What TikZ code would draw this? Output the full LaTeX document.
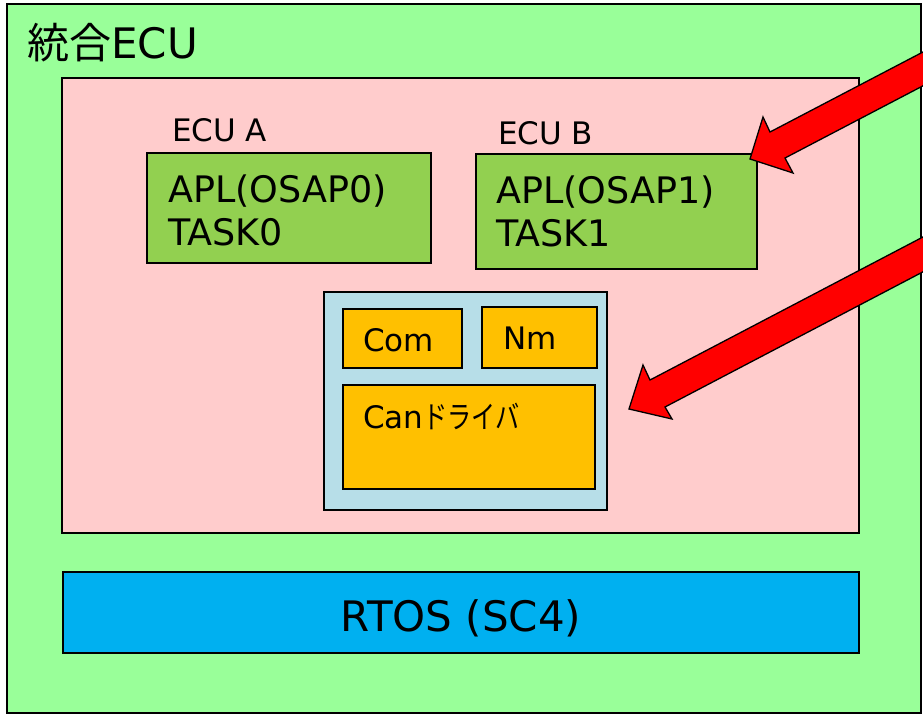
\documentclass[tikz,border=0pt]{standalone}
\usepackage{fontspec}
\setmainfont{DejaVu Sans}
\newfontfamily\jpfont{Noto Sans CJK JP}
\newfontfamily\jpnarrow[FakeStretch=0.78]{Noto Sans CJK JP}
\definecolor{outergreen}{HTML}{99FF99}
\definecolor{pinkbg}{HTML}{FFCCCC}
\definecolor{aplgreen}{HTML}{92D050}
\definecolor{bswblue}{HTML}{B7DEE8}
\definecolor{modorange}{HTML}{FFC000}
\definecolor{rtosblue}{HTML}{00B0F0}
\definecolor{arrowred}{HTML}{FF0000}
\begin{document}
\begin{tikzpicture}[x=1pt,y=-1pt,
  box/.style={draw=black, line width=1.5pt, anchor=north west, inner sep=0pt, outer sep=0pt},
  lbl/.style={anchor=base west, inner sep=0pt, text=black},
  blockarrow/.style={fill=arrowred, draw=black, line width=1.3pt, line join=miter}]
\useasboundingbox (0,0) rectangle (923,715);
\clip (0,0) rectangle (923,715);
% outer
\node[box, fill=outergreen, minimum width=914pt, minimum height=709pt] (outer) at (7,4) {};
\node[lbl, font=\fontsize{42}{50}\selectfont] (title) at (27,58) {{\jpfont 統合}ECU};
% pink region
\node[box, fill=pinkbg, line width=1.2pt, minimum width=797pt, minimum height=455pt] (pink) at (62,78) {};
% ECU A
\node[lbl, font=\fontsize{31}{37}\selectfont] (ecua) at (172,141) {ECU A};
\node[box, fill=aplgreen, minimum width=284pt, minimum height=110pt] (apla) at (147,153) {};
\node[lbl, font=\fontsize{36.5}{43}\selectfont] (apla1) at (168,202) {APL(OSAP0)};
\node[lbl, font=\fontsize{36.5}{43}\selectfont] (apla2) at (168,245) {TASK0};
% ECU B
\node[lbl, font=\fontsize{31}{37}\selectfont] (ecub) at (498,144) {ECU B};
\node[box, fill=aplgreen, minimum width=281pt, minimum height=115pt] (aplb) at (476,154) {};
\node[lbl, font=\fontsize{36.5}{43}\selectfont] (aplb1) at (496,203) {APL(OSAP1)};
\node[lbl, font=\fontsize{36.5}{43}\selectfont] (aplb2) at (496,246) {TASK1};
% BSW
\node[box, fill=bswblue, line width=1.2pt, minimum width=283pt, minimum height=218pt] (bsw) at (324,292) {};
\node[box, fill=modorange, minimum width=119pt, minimum height=59pt] (com) at (343,309) {};
\node[lbl, font=\fontsize{31}{37}\selectfont] (comt) at (363,351) {Com};
\node[box, fill=modorange, minimum width=115pt, minimum height=61pt] (nm) at (482,307) {};
\node[lbl, font=\fontsize{31}{37}\selectfont] (nmt) at (503,349) {Nm};
\node[box, fill=modorange, minimum width=252pt, minimum height=104pt] (can) at (343,385) {};
\node[lbl, font=\fontsize{31}{37}\selectfont] (cant) at (363,428) {Can{\jpnarrow ドライバ}};
% RTOS
\node[box, fill=rtosblue, minimum width=796pt, minimum height=81pt] (rtos) at (63,572) {};
\node[anchor=base, inner sep=0pt, font=\fontsize{42}{50}\selectfont] (rtost) at (461,631) {RTOS (SC4)};
% arrows
\coordinate (t1) at (750,159);
\coordinate (t2) at (629,409);
\draw[blockarrow] (t1) -- (763,117) -- (770,132) -- (965,30) -- (980,56) -- (785,158) -- (793,173) -- cycle;
\draw[blockarrow] (t2) -- (643,365) -- (650,380) -- (942,227) -- (957,254) -- (665,407) -- (672,419) -- cycle;
\end{tikzpicture}
\end{document}
